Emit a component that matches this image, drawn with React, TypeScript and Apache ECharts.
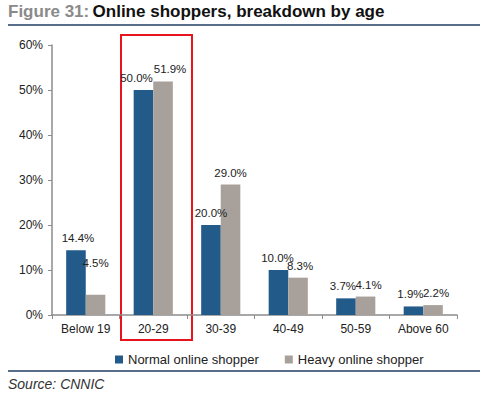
import React, { useEffect, useRef } from "react";
import * as echarts from "echarts";

const categories = ["Below 19", "20-29", "30-39", "40-49", "50-59", "Above 60"];
const normalShopper = [14.4, 50.0, 20.0, 10.0, 3.7, 1.9];
const heavyShopper = [4.5, 51.9, 29.0, 8.3, 4.1, 2.2];
const yTicks = [0, 10, 20, 30, 40, 50, 60];

const normalOffsets: number[][] = [[2, 0], [-7, 0], [0, 0], [-1, 0], [-3, 0], [-3, 0]];
const heavyOffsets: number[][] = [[0, -20], [7, 0], [0, 0], [2, 0], [3, 0], [3, 0]];

const FONT = "'Liberation Sans', Arial, sans-serif";

export default function App() {
  const ref = useRef<HTMLDivElement>(null);
  useEffect(() => {
    if (!ref.current) return;
    const chart = echarts.init(ref.current, null, { renderer: "svg" });
    const mk = (vals: number[], offs: number[][]) =>
      vals.map((v, i) => ({ value: v, label: { offset: offs[i] } }));
    const lbl = {
      show: true,
      position: "top",
      distance: 6,
      fontSize: 11.5,
      color: "#222",
      fontFamily: FONT,
      formatter: (p: any) => p.value.toFixed(1) + "%",
    };
    chart.setOption({
      animation: false,
      textStyle: { fontFamily: FONT },
      grid: { left: 52, right: 31, top: 45, bottom: 82 },
      legend: {
        left: 110,
        top: 348,
        itemWidth: 8,
        itemHeight: 8,
        itemGap: 26,
        icon: "rect",
        textStyle: { fontSize: 13, color: "#222", fontFamily: FONT },
        data: ["Normal online shopper", "Heavy online shopper"],
      },
      xAxis: {
        type: "category",
        data: categories,
        axisLine: { lineStyle: { color: "#8c8c8c", width: 1.5 } },
        axisTick: { show: true, lineStyle: { color: "#8c8c8c" }, length: 4 },
        axisLabel: { fontSize: 12, color: "#222", margin: 8, fontFamily: FONT },
      },
      yAxis: {
        type: "value",
        min: 0,
        max: 60,
        interval: 10,
        axisLine: { show: true, lineStyle: { color: "#8c8c8c", width: 1.5 } },
        axisTick: { show: true, inside: false, length: 4, lineStyle: { color: "#8c8c8c" } },
        splitLine: { show: false },
        axisLabel: {
          fontSize: 12,
          color: "#222",
          margin: 9,
          fontFamily: FONT,
          formatter: (v: number) => (yTicks.includes(v) ? v + "%" : ""),
        },
      },
      series: [
        {
          name: "Normal online shopper",
          type: "bar",
          data: mk(normalShopper, normalOffsets),
          barGap: "0%",
          barCategoryGap: "42%",
          itemStyle: { color: "#225A8A" },
          label: lbl,
        },
        {
          name: "Heavy online shopper",
          type: "bar",
          data: mk(heavyShopper, heavyOffsets),
          itemStyle: { color: "#A8A09A" },
          label: lbl,
        },
      ],
      graphic: [
        {
          type: "text",
          left: 8,
          top: 3,
          style: {
            text: "{a|Figure 31:} {b|Online shoppers, breakdown by age}",
            rich: {
              a: { fontSize: 17, fontWeight: "bold", fill: "#8a8a8a", fontFamily: FONT },
              b: { fontSize: 17, fontWeight: "bold", fill: "#111", fontFamily: FONT },
            },
          },
        },
        {
          type: "line",
          shape: { x1: 8, y1: 25, x2: 480, y2: 25 },
          style: { stroke: "#1F3D63", lineWidth: 1.5 },
        },
        {
          type: "rect",
          shape: { x: 121, y: 35, width: 71, height: 305 },
          style: { fill: "none", stroke: "#E8141B", lineWidth: 2 },
        },
        {
          type: "line",
          shape: { x1: 8, y1: 371, x2: 480, y2: 371 },
          style: { stroke: "#1F3D63", lineWidth: 1.5 },
        },
        {
          type: "text",
          left: 8,
          top: 377,
          style: {
            text: "Source: CNNIC",
            fontSize: 14,
            fontStyle: "italic",
            fill: "#333",
            fontFamily: FONT,
          },
        },
      ],
    });
    return () => chart.dispose();
  }, []);
  return <div ref={ref} style={{ width: 488, height: 397, position: "absolute", left: 0, top: 0 }} />;
}
